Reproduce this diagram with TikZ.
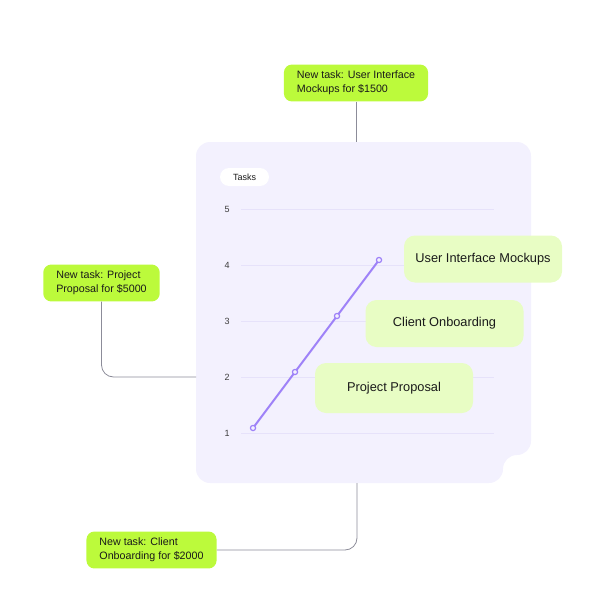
\documentclass[tikz,border=0pt]{standalone}
\usepackage{fontspec}
\setmainfont{Liberation Sans}
\usetikzlibrary{positioning,calc}
\definecolor{lime}{HTML}{BCFA3B}
\definecolor{softlime}{HTML}{E8FDC4}
\definecolor{panel}{HTML}{F3F1FE}
\definecolor{gridc}{HTML}{E6E2FA}
\definecolor{plotc}{HTML}{9E82F8}
\definecolor{linkc}{HTML}{8C8C99}
\definecolor{ink}{HTML}{1A1A1A}
\tikzset{
  newtask/.style={fill=lime, text=ink, rounded corners=8pt, align=left, inner xsep=13pt, inner ysep=6.5pt, font=\fontsize{10.7}{14}\selectfont},
  taskbox/.style={fill=softlime, text=ink, rounded corners=11pt, minimum width=158pt, minimum height=47pt, font=\fontsize{12.8}{15}\selectfont},
  link/.style={draw=linkc, line width=0.8pt, rounded corners=12pt},
  gridline/.style={draw=gridc, line width=0.8pt},
  ticklabel/.style={text=ink!85, font=\fontsize{9}{10}\selectfont},
}
\begin{document}
\begin{tikzpicture}[x=1pt,y=-1pt]
	\useasboundingbox (0,0) rectangle (601,602);
	% chart panel
	\fill[panel, rounded corners=14pt] (196,142) -- (531,142) -- (531,455) -- (503,455) -- (503,483) -- (196,483) -- cycle;
	\coordinate (t) at (356,142);
	\coordinate (l) at (196,377);
	\coordinate (r) at (357,483);
	\foreach \n/\y in {1/433,2/377,3/321,4/265,5/209} {
		\draw[gridline] (241,\y) -- (494,\y);
		\node[ticklabel] (y\n) at (227,\y) {\n};
	}
	\node[fill=white, rounded corners=9pt, minimum width=49pt, minimum height=18pt, inner sep=0pt, font=\fontsize{9}{10}\selectfont, text=ink] (h) at (244.5,177) {Tasks};
	% plot
	\coordinate (p1) at (253,428);
	\coordinate (p2) at (295,372);
	\coordinate (p3) at (337,316);
	\coordinate (p4) at (379,260);
	\draw[plotc, line width=2pt] (p1) -- (p2) -- (p3) -- (p4);
	\foreach \p in {p1,p2,p3,p4}
		\draw[plotc, fill=panel, line width=1.2pt] (\p) circle (2.6pt);
	\path	(483,259)	node[taskbox] (d) {User Interface Mockups}
		(444.5,323.5)	node[taskbox] (e) {Client Onboarding}
		(394,388)	node[taskbox, minimum height=50pt] (f) {Project Proposal};
	% callouts
	\path	(356,83)	node[newtask] (a) {New task: User Interface\\Mockups for \$1500}
		(101.5,283)	node[newtask] (b) {New task: Project\\Proposal for \$5000}
		(151.5,550)	node[newtask] (c) {New task: Client\\Onboarding for \$2000};
	\draw[link] (a) -- (t);
	\draw[link] (b) |- (l);
	\draw[link] (c) -| (r);
\end{tikzpicture}
\end{document}
